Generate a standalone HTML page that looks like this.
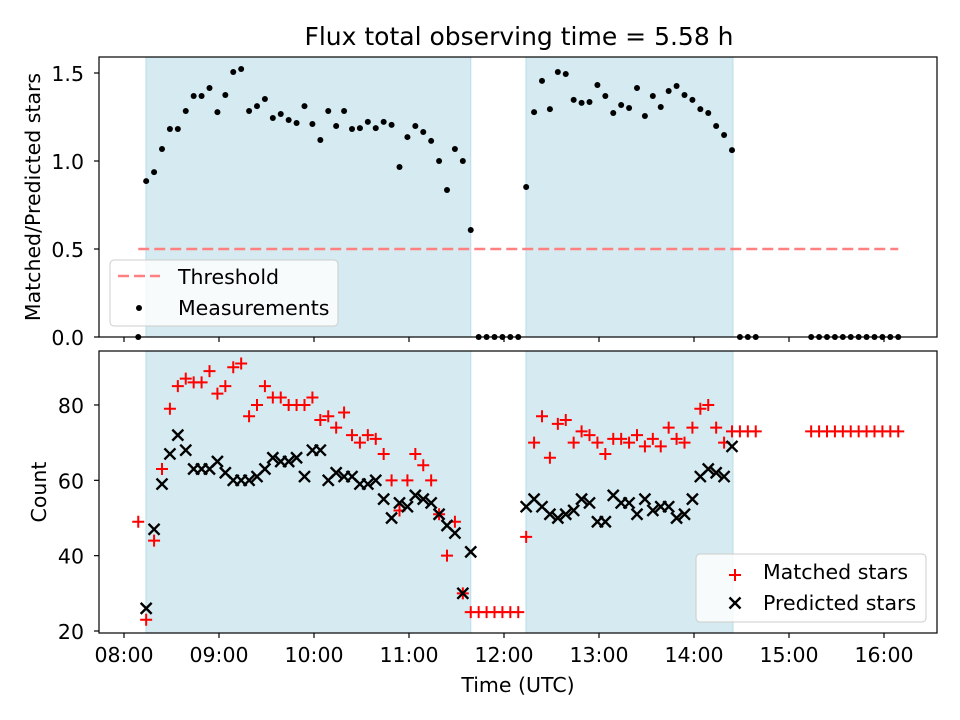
<!DOCTYPE html>
<html><head><meta charset="utf-8">
<style>
body{margin:0;background:#fff;}
svg{display:block;font-family:"DejaVu Sans","Liberation Sans",sans-serif;}
</style></head>
<body>
<svg id="chart" width="960" height="720" viewBox="0 0 960 720"></svg>
<script>
// minutes after 08:00 for each observation
const times = [9,14,19,24,29,34,39,44,49,54,59,64,69,74,79,84,89,94,99,104,109,114,119,124,129,134,139,144,149,154,159,164,169,174,179,184,189,194,199,204,209,214,219,224,229,234,239,244,249,254,259,264,269,274,279,284,289,294,299,304,309,314,319,324,329,334,339,344,349,354,359,364,369,374,379,384,389,394,399,404,409,414,419,424,429,434,439,444,449,454,459,464,469,474,479,484,489];
const ratio = [0,0.886,0.937,1.068,1.182,1.182,1.284,1.369,1.369,1.415,1.278,1.375,1.506,1.523,1.284,1.312,1.352,1.244,1.267,1.233,1.216,1.312,1.210,1.119,1.284,1.199,1.284,1.182,1.187,1.222,1.187,1.222,1.205,0.966,1.136,1.199,1.165,1.114,1.0,0.835,1.068,1.0,0.608,0,0,0,0,0,0,0.852,1.278,1.455,1.295,1.506,1.494,1.347,1.330,1.335,1.432,1.369,1.273,1.318,1.301,1.415,1.256,1.369,1.307,1.398,1.426,1.375,1.347,1.295,1.273,1.199,1.148,1.062,0,0,0,null,null,null,null,null,null,0,0,0,0,0,0,0,0,0,0,0,0];
const matched = [49,23,44,63,79,85,87,86,86,89,83,85,90,91,77,80,85,82,82,80,80,80,82,76,77,74,78,72,70,72,71,67,60,52,60,67,64,60,51,40,49,30,25,25,25,25,25,25,25,45,70,77,66,75,76,70,73,72,70,67,71,71,70,72,69,71,69,74,71,70,74,79,80,74,70,73,73,73,73,null,null,null,null,null,null,73,73,73,73,73,73,73,73,73,73,73,73];
const predicted = [null,26,47,59,67,72,68,63,63,63,65,62,60,60,60,61,63,66,65,65,66,61,68,68,60,62,61,61,59,59,60,55,50,54,53,56,55,54,51,48,46,30,41,null,null,null,null,null,null,53,55,53,51,50,51,52,55,54,49,49,56,54,54,51,55,52,53,53,50,51,55,61,63,62,61,69];
const spans = [[13.9,219],[253.9,384.6]];
const threshold = 0.5;
const xTicks = [0,60,120,180,240,300,360,420,480];
const xTickLabels = ["08:00","09:00","10:00","11:00","12:00","13:00","14:00","15:00","16:00"];
const topTicks = [0,0.5,1.0,1.5];
const topTickLabels = ["0.0","0.5","1.0","1.5"];
const botTicks = [20,40,60,80];
const botTickLabels = ["20","40","60","80"];

const NS="http://www.w3.org/2000/svg";
const svg=document.getElementById('chart');
function mk(tag,attrs,parent){const e=document.createElementNS(NS,tag);for(const k in attrs)e.setAttribute(k,attrs[k]);(parent||svg).appendChild(e);return e;}
const L=99,R=937;
const FS=20.5;
const X=m=>124+m*95/60;
const topP={t:57,b:337}, botP={t:351,b:633};
const Yt=v=>337-v*176;
const Yb=v=>631-(v-20)*3.767;

function panel(p,name){
  const g=mk('g',{});
  
  
  spans.forEach((s,i)=>{
    const r=mk('rect',{x:X(s[0]),y:p.t,width:X(s[1])-X(s[0]),height:p.b-p.t,fill:'#d5ebf1',stroke:'#b9dde8','stroke-width':1},g);
    
    
  });
  return g;
}
function frame(p,name){
  const r=mk('rect',{x:L,y:p.t,width:R-L,height:p.b-p.t,fill:'none',stroke:'#000','stroke-width':1.2});
  
  
  xTicks.forEach(t=>mk('line',{x1:X(t),x2:X(t),y1:p.b,y2:p.b+5,stroke:'#000','stroke-width':1.2}));
}
function txt(x,y,s,attrs,name){const t=mk('text',Object.assign({x:x,y:y,'font-size':FS,fill:'#000'},attrs||{}));t.textContent=s;return t;}

// Top panel
panel(topP,'ratio-panel');
const th=mk('line',{x1:X(times[0]),x2:X(times[times.length-1]),y1:Yt(threshold),y2:Yt(threshold),stroke:'#ff8080','stroke-width':2.5,'stroke-dasharray':'11,5'});


ratio.forEach((v,i)=>{if(v===null)return;
  const c=mk('circle',{cx:X(times[i]),cy:Yt(v),r:3,fill:'#000'});
  
  
});
frame(topP,'ratio-axes');
topTicks.forEach((t,i)=>{mk('line',{x1:L-5,x2:L,y1:Yt(t),y2:Yt(t),stroke:'#000','stroke-width':1.2});txt(84,Yt(t)+8,topTickLabels[i],{'text-anchor':'end'},'y-tick-label');});

// Bottom panel
panel(botP,'count-panel');
matched.forEach((v,i)=>{if(v===null)return;const x=X(times[i]),y=Yb(v);
  const p=mk('path',{d:`M${x-6},${y}H${x+6}M${x},${y-6}V${y+6}`,stroke:'#ff0000','stroke-width':2,fill:'none'});
  
  
});
predicted.forEach((v,i)=>{if(v===null)return;const x=X(times[i]),y=Yb(v);
  const p=mk('path',{d:`M${x-5.5},${y-5.5}L${x+5.5},${y+5.5}M${x-5.5},${y+5.5}L${x+5.5},${y-5.5}`,stroke:'#000','stroke-width':2.4,fill:'none'});
  
  
});
frame(botP,'count-axes');
botTicks.forEach((t,i)=>{mk('line',{x1:L-5,x2:L,y1:Yb(t),y2:Yb(t),stroke:'#000','stroke-width':1.2});txt(84,Yb(t)+8,botTickLabels[i],{'text-anchor':'end'},'y-tick-label');});
xTicks.forEach((t,i)=>txt(X(t),662,xTickLabels[i],{'text-anchor':'middle'},'x-tick-label'));

// Titles
txt(519,45,'Flux total observing time = 5.58 h',{'text-anchor':'middle','font-size':25},'chart-title');
txt(518,692,'Time (UTC)',{'text-anchor':'middle'},'x-axis-title');
txt(0,0,'Matched/Predicted stars',{'text-anchor':'middle',transform:'translate(40,197) rotate(-90)'},'top-y-axis-title');
txt(0,0,'Count',{'text-anchor':'middle',transform:'translate(46,492) rotate(-90)'},'bottom-y-axis-title');

// Legend top
const lg1=mk('g',{});


mk('rect',{x:110,y:260,width:228,height:66,rx:4,fill:'#fff','fill-opacity':0.8,stroke:'#ccc'},lg1);
mk('line',{x1:118,x2:160,y1:276,y2:276,stroke:'#ff8080','stroke-width':2.5,'stroke-dasharray':'11,5'},lg1);
mk('circle',{cx:139,cy:308,r:3,fill:'#000'},lg1);
const a=txt(178,284,'Threshold',{},'legend-threshold');lg1.appendChild(a);
const b=txt(178,315,'Measurements',{},'legend-measurements');lg1.appendChild(b);

// Legend bottom
const lg2=mk('g',{});


mk('rect',{x:696,y:554,width:230,height:68,rx:4,fill:'#fff','fill-opacity':0.8,stroke:'#ccc'},lg2);
mk('path',{d:'M729,575H741M735,569V581',stroke:'#ff0000','stroke-width':2,fill:'none'},lg2);
mk('path',{d:'M729.5,597.5L740.5,608.5M729.5,608.5L740.5,597.5',stroke:'#000','stroke-width':2.4,fill:'none'},lg2);
const c1=txt(763,579,'Matched stars',{},'legend-matched');lg2.appendChild(c1);
const c2=txt(763,610,'Predicted stars',{},'legend-predicted');lg2.appendChild(c2);
</script>
</body></html>
